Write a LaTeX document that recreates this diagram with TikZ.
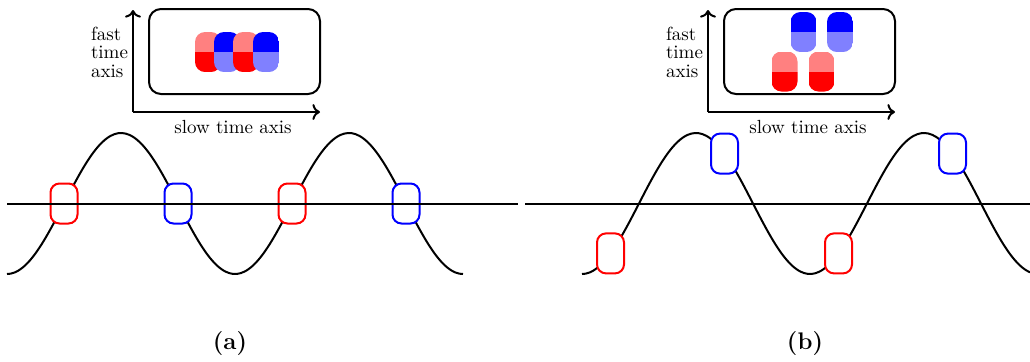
\documentclass[tikz,border=0pt]{standalone}
\usetikzlibrary{arrows.meta,positioning,calc}

\begin{document}
\begin{tikzpicture}[x=0.5pt,y=-0.5pt,font=\fontsize{9.5}{9.3}\selectfont,line width=1pt,
  frame/.style={draw,rounded corners=6pt,minimum width=85.5pt,minimum height=42.5pt,inner sep=0pt},
  pill/.style 2 args={rounded corners=5pt,minimum width=13pt,minimum height=20pt,inner sep=0pt,
    path picture={\fill[#1,sharp corners] (path picture bounding box.north west) rectangle (path picture bounding box.east);
      \fill[#2,sharp corners] (path picture bounding box.west) rectangle (path picture bounding box.south east);}},
  redpill/.style={pill={red!50}{red}},
  bluepill/.style={pill={blue}{blue!50}},
  sample/.style={draw=#1,fill=white,rounded corners=4.5pt,minimum width=13.5pt,minimum height=20pt,inner sep=0pt}]
  \useasboundingbox (0,0) rectangle (1030,361);
  \foreach \p/\dx in {a/0,b/575} {
    \coordinate (o\p) at (\dx+133,112);
    \coordinate (t\p) at (\dx+133,10);
    \coordinate (e\p) at (\dx+320,112);
    \draw[->] (o\p) -- (t\p);
    \draw[->] (o\p) -- (e\p);
    \node[frame] (frame\p) at (\dx+234.5,51.5) {};
    \node[anchor=east,align=left,inner sep=0pt] (fast\p) at (\dx+129,52) {fast\\time\\axis};
    \node (slow\p) at (\dx+233,127) {slow time axis};
    \node[font=\large\bfseries] (cap\p) at (\dx+230,344) {(\p)};
  }
  \foreach \n/\x/\y/\c in {pa1/208/52/red,pa2/227/52/blue,pa3/246/52/red,pa4/266/52/blue,
    pb1/803.5/32/blue,pb2/840/32/blue,pb3/784.5/71.5/red,pb4/821.5/71.5/red}
    \node[\c pill] (\n) at (\x,\y) {};
  \draw plot[domain=0:456,samples=120,smooth] ({\x+7},{203.5+70.5*cos(\x/228*360)});
  \draw plot[domain=0:448,samples=120,smooth] ({\x+582},{203.5+70.5*cos(\x/228*360)});
  \foreach \n/\x/\y/\c in {sa1/64/203.5/red,sa2/178/203.5/blue,sa3/292/203.5/red,sa4/406/203.5/blue,
    sb1/610.5/253.4/red,sb2/724.5/153.6/blue,sb3/838.5/253.4/red,sb4/952.5/153.6/blue}
    \node[sample=\c] (\n) at (\x,\y) {};
  \coordinate (hla) at (7,203.5);
  \coordinate (hra) at (518,203.5);
  \coordinate (hlb) at (525,203.5);
  \coordinate (hrb) at (1030,203.5);
  \draw (hla) -- (hra);
  \draw (hlb) -- (hrb);
\end{tikzpicture}
\end{document}
